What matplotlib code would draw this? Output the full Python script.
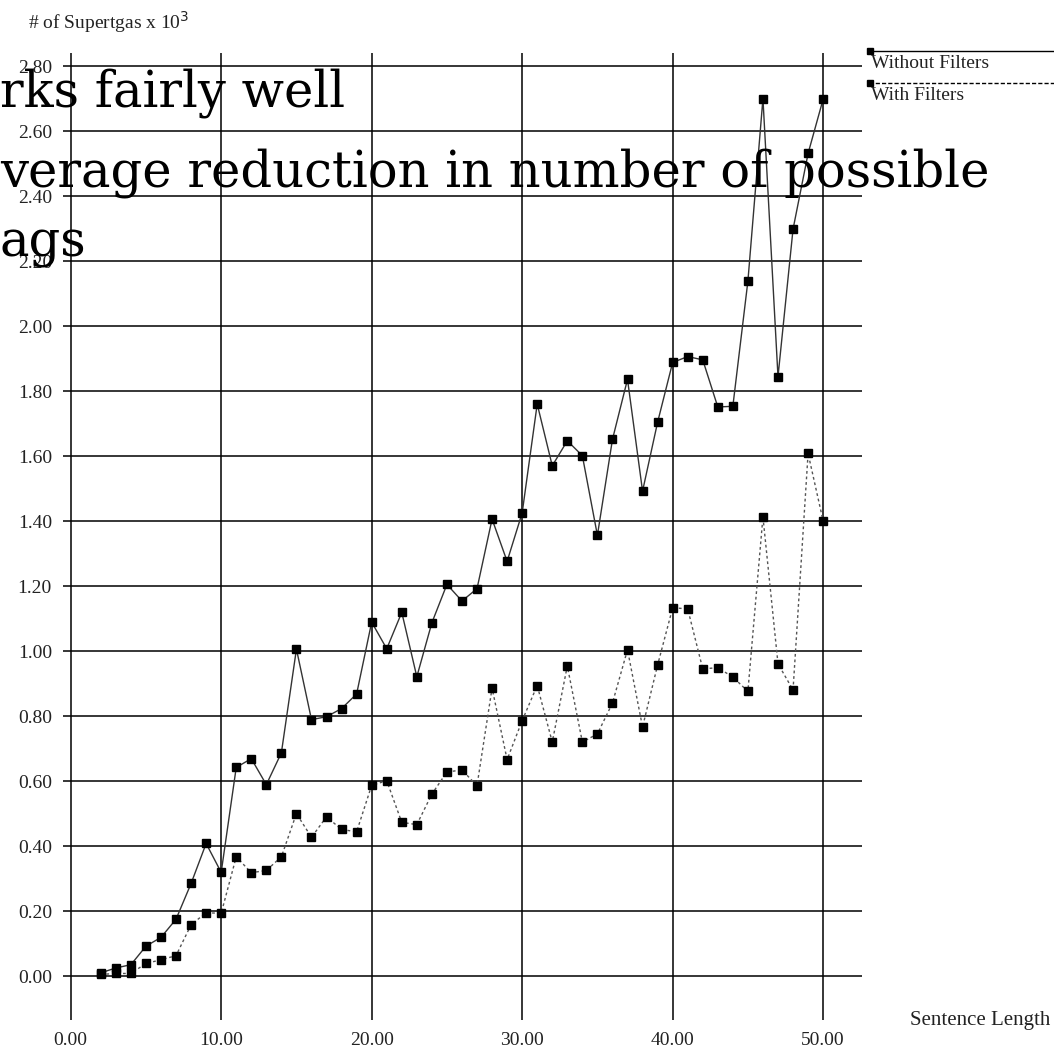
import matplotlib
matplotlib.use("Agg")
import matplotlib.pyplot as plt
from matplotlib.lines import Line2D
import numpy as np

# sentence length vs number of supertags (x 10^3)
lengths = list(range(2, 51))
without_filters = [0.01, 0.025, 0.035, 0.092, 0.119, 0.175, 0.285, 0.408, 0.319,
                   0.642, 0.669, 0.589, 0.687, 1.006, 0.789, 0.798, 0.823, 0.868,
                   1.089, 1.007, 1.119, 0.921, 1.087, 1.205, 1.154, 1.192, 1.406,
                   1.276, 1.425, 1.76, 1.570, 1.647, 1.601, 1.356, 1.651, 1.836,
                   1.492, 1.704, 1.888, 1.906, 1.896, 1.751, 1.753, 2.138, 2.70,
                   1.844, 2.298, 2.531, 2.698]
with_filters = [0.005, 0.008, 0.008, 0.039, 0.050, 0.063, 0.158, 0.195, 0.193,
                0.367, 0.318, 0.325, 0.367, 0.50, 0.427, 0.49, 0.451, 0.444,
                0.587, 0.601, 0.473, 0.466, 0.560, 0.628, 0.634, 0.586, 0.886,
                0.666, 0.786, 0.894, 0.72, 0.954, 0.72, 0.745, 0.84, 1.004,
                0.766, 0.957, 1.133, 1.130, 0.945, 0.949, 0.92, 0.876, 1.413,
                0.961, 0.880, 1.608, 1.40]
x_ticks = [0, 10, 20, 30, 40, 50]
y_ticks = np.round(np.arange(0, 2.81, 0.2), 2)
slide_lines = ["rks fairly well",
               "verage reduction in number of possible",
               "ags"]
slide_baselines = [107, 186, 256]  # pixels from the top

serif = ["Liberation Serif", "DejaVu Serif"]

fig = plt.figure(figsize=(10.54, 10.54), dpi=100)
ax = fig.add_axes([0.0598, 0.0323, 0.758, 0.9174])

ax.plot(lengths, without_filters, "-", color="#333333", lw=1.0,
        marker="s", ms=6.3, mfc="black", mec="black")
ax.plot(lengths, with_filters, color="#555555", lw=1.0, linestyle=(0, (2, 2)),
        marker="s", ms=6.3, mfc="black", mec="black")

ax.set_xlim(-0.51, 52.58)
ax.set_ylim(-0.135, 2.84)
ax.set_xticks(x_ticks)
ax.set_yticks(y_ticks)
ax.set_xticklabels([f"{v:.2f}" for v in x_ticks])
ax.set_yticklabels([f"{v:.2f}" for v in y_ticks])
ax.tick_params(length=0, labelsize=14, colors="#222222")
ax.tick_params(axis="y", pad=8)
ax.tick_params(axis="x", pad=9)
for lab in ax.get_xticklabels() + ax.get_yticklabels():
    lab.set_family(serif)
for s in ax.spines.values():
    s.set_visible(False)
ax.grid(True, color="black", lw=1.1)
ax.set_axisbelow(True)

fig.text(28 / 1054, 1 - 22 / 1054, "# of Supertgas x 10$^3$", fontsize=14,
         family=serif, color="#222222", va="center", ha="left")
fig.text(1050 / 1054, 1 - 1020 / 1054, "Sentence Length", fontsize=15,
         family=serif, color="#222222", va="center", ha="right")

# legend, drawn by hand
for yy, style, label in [(51, "-", "Without Filters"),
                         (83, (0, (3, 1.5)), "With Filters")]:
    fy = 1 - yy / 1054
    fig.add_artist(Line2D([869 / 1054, 1.0], [fy, fy], color="black", lw=1.0,
                          linestyle=style))
    fig.add_artist(Line2D([870 / 1054], [fy], marker="s", ms=5, color="black"))
    fig.text(871 / 1054, fy - 13 / 1054, label, fontsize=14, family=serif,
             va="center", ha="left", color="#222222")

# slide text overlapping the chart
for line, yy in zip(slide_lines, slide_baselines):
    fig.text(0.0, 1 - yy / 1054, line, fontsize=35.7,
             family=["DejaVu Serif"], va="baseline", ha="left", color="black")

fig.savefig("out.png", dpi=100)
